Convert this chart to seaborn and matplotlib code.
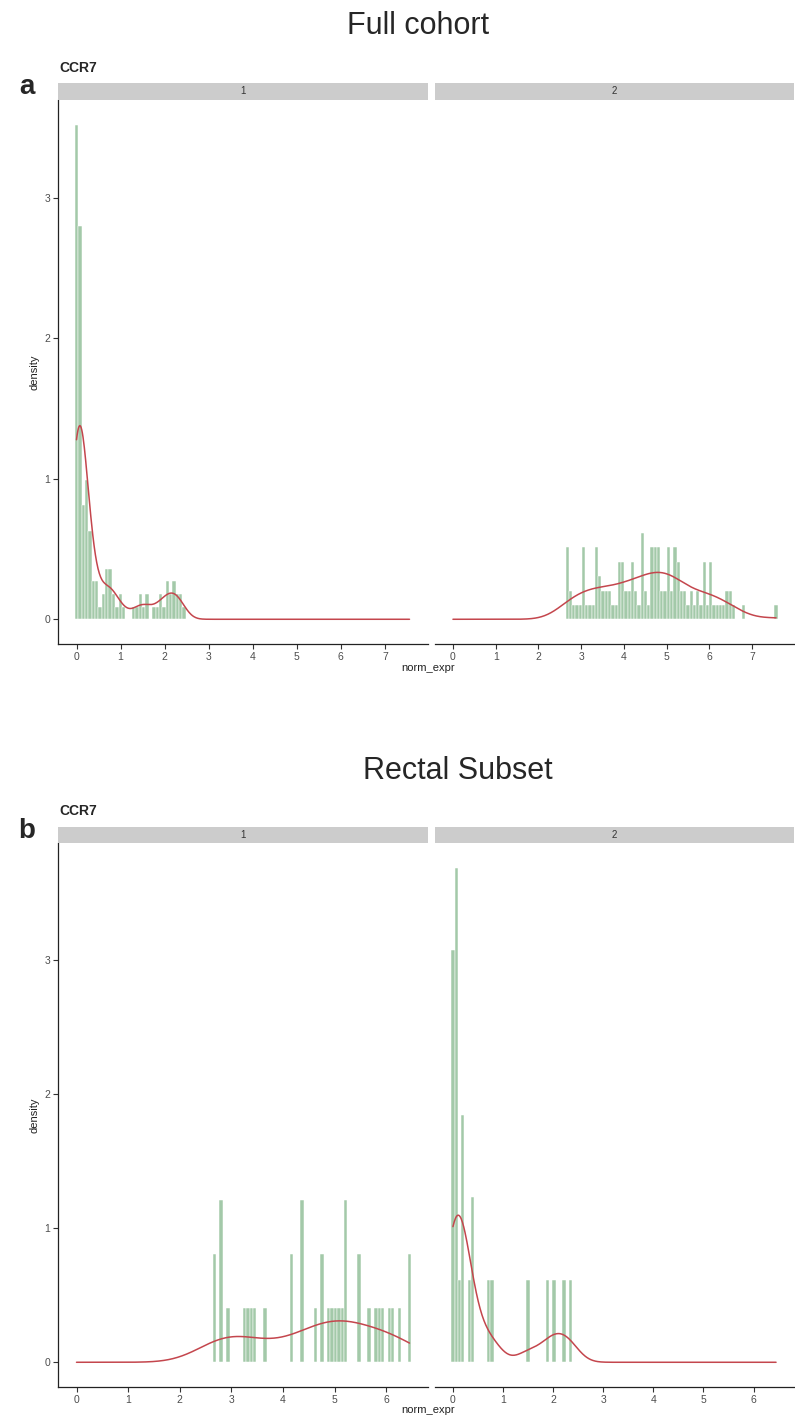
import numpy as np
import seaborn as sns
import matplotlib.pyplot as plt

# histogram counts of norm_expr, read bar by bar (100 bins from 0 to the max value)
a_max = 7.56
b_max = 6.45
n_bins = 100

# a) Full cohort, cluster 1 and 2
a1_bins = list(range(0, 33))
a1_counts = [39, 31, 9, 11, 7, 3, 3, 1, 2, 4, 4, 2, 1, 2, 1, 0, 0,
             1, 1, 2, 1, 2, 0, 1, 1, 2, 1, 3, 2, 3, 2, 2, 1]
a2_bins = list(range(35, 90)) + [99]
a2_counts = [5, 2, 1, 1, 1, 5, 1, 1, 1, 5, 3, 2, 2, 2, 1, 1, 4, 4, 2, 2,
             4, 2, 1, 6, 2, 1, 5, 5, 5, 2, 2, 5, 2, 5, 4, 2, 2, 1, 2, 1,
             2, 1, 4, 1, 4, 1, 1, 1, 1, 2, 2, 1, 0, 0, 1, 1]

# b) Rectal subset, cluster 1 and 2
b1_bins = [41, 43, 45, 50, 51, 52, 53, 56, 64, 67, 71, 73, 75, 76, 77, 78,
           79, 80, 84, 87, 89, 90, 91, 93, 94, 96, 99]
b1_counts = [2, 3, 1, 1, 1, 1, 1, 1, 2, 3, 1, 2, 1, 1, 1, 1,
             1, 3, 2, 1, 1, 1, 1, 1, 1, 1, 2]
b2_bins = [0, 1, 2, 3, 5, 6, 11, 12, 23, 29, 31, 34, 36]
b2_counts = [5, 6, 1, 3, 1, 2, 1, 1, 1, 1, 1, 1, 1]

fill = "#a3c9a9"
red = "#c4464d"

sns.set_style("white")
plt.rcParams["font.family"] = ["Liberation Sans", "DejaVu Sans"]
narrow = ["Liberation Sans Narrow", "Liberation Sans", "DejaVu Sans"]

W, H = 795.0, 1419.0
fig = plt.figure(figsize=(W / 100, H / 100), dpi=100)


def box(x0, x1, ytop, ybot):
    return [x0 / W, 1 - ybot / H, (x1 - x0) / W, (ybot - ytop) / H]


def samples(bins, counts, xmax):
    w = xmax / (n_bins - 1)
    return np.repeat(np.array(bins) * w, counts)


def nrd0_adjust(x):
    # R's default bandwidth (bw.nrd0) relative to scott's rule used by seaborn
    sd = np.std(x, ddof=1)
    q75, q25 = np.percentile(x, [75, 25])
    return 0.9 * min(sd, (q75 - q25) / 1.34) / sd


def panel(ytop, ybot, strip_top, facets, xmax, title, title_xy, letter_y, ccr_y, xlab_y):
    w = xmax / (n_bins - 1)
    edges = np.arange(n_bins + 1) * w - w / 2
    pad = (edges[-1] - edges[0]) * 0.05
    xlim = (edges[0] - pad, edges[-1] + pad)

    axes = [fig.add_axes(box(58, 428, ytop, ybot)),
            fig.add_axes(box(435, 794, ytop, ybot))]
    for i, (ax, (bins, counts)) in enumerate(zip(axes, facets)):
        x = samples(bins, counts, xmax)
        sns.histplot(x=x, bins=edges, stat="density", color=fill, alpha=1,
                     edgecolor="white", linewidth=0.35, ax=ax)
        sns.kdeplot(x=x, bw_adjust=nrd0_adjust(x), cut=60, clip=(0, xmax),
                    gridsize=512, color=red, linewidth=1.1, ax=ax)
        ax.set_xlim(*xlim)
        ax.set_xticks(range(0, int(xmax) + 1))
        ax.set_xlabel("")
        ax.set_ylabel("")
        for s in ["top", "right"]:
            ax.spines[s].set_visible(False)
        ax.spines["bottom"].set_color("#222222")
        ax.spines["bottom"].set_linewidth(0.9)
        ax.tick_params(axis="both", length=3.5, width=0.8, color="#333333",
                       labelsize=7.5, labelcolor="#4d4d4d", pad=2,
                       bottom=True, left=(i == 0))
        # facet strip
        st = fig.add_axes(box(58 if i == 0 else 435, 428 if i == 0 else 794,
                              strip_top, ytop))
        st.set_facecolor("#cccccc")
        st.set_xticks([])
        st.set_yticks([])
        for s in st.spines.values():
            s.set_visible(False)
        st.text(0.5, 0.5, str(i + 1), ha="center", va="center",
                fontsize=7, color="#333333", transform=st.transAxes)

    ymax = max(p.get_height() for ax in axes for p in ax.patches)
    for ax in axes:
        ax.set_ylim(-0.05 * ymax, 1.05 * ymax)
        ax.set_yticks(range(0, int(ymax) + 1))
    axes[0].spines["left"].set_color("#222222")
    axes[0].spines["left"].set_linewidth(0.9)
    axes[1].spines["left"].set_visible(False)
    axes[1].set_yticklabels([])

    fig.text(35 / W, 1 - (ytop + ybot) / 2 / H, "density", rotation=90,
             ha="center", va="center", fontsize=8, color="#222222")
    fig.text(428 / W, 1 - xlab_y / H, "norm_expr", ha="center", va="center",
             fontsize=8, color="#222222")
    fig.text(title_xy[0] / W, 1 - title_xy[1] / H, title, ha="center",
             va="center", fontsize=22, family=narrow)
    fig.text(27 / W, 1 - letter_y / H, "a" if ytop < 500 else "b",
             ha="center", va="center", fontsize=20, fontweight="bold",
             family=narrow)
    fig.text(59 / W, 1 - ccr_y / H, "CCR7", ha="left", va="center",
             fontsize=10, fontweight="bold", family=narrow)


panel(100, 644, 83, [(a1_bins, a1_counts), (a2_bins, a2_counts)], a_max,
      "Full cohort", (418, 26), 87, 68, 668)
panel(843, 1387, 827, [(b1_bins, b1_counts), (b2_bins, b2_counts)], b_max,
      "Rectal Subset", (458, 771), 831, 811, 1410)

fig.savefig("out.png", dpi=100, facecolor="white")
